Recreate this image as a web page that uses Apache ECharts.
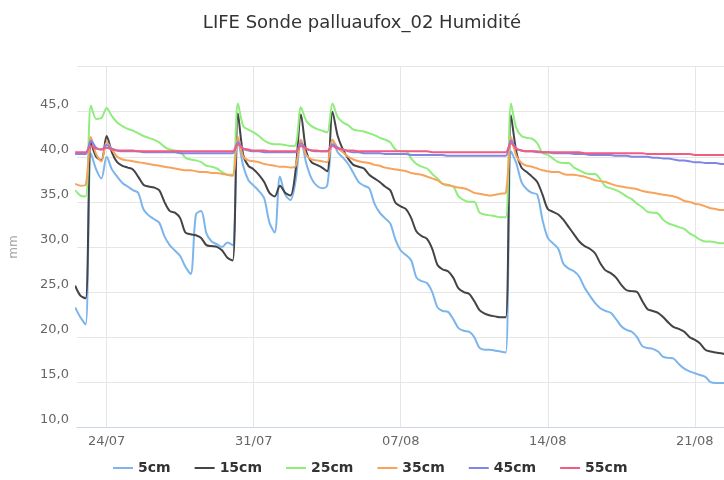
<!DOCTYPE html>
<html>
<head>
<meta charset="utf-8">
<script src="https://cdn.jsdelivr.net/npm/echarts@6/dist/echarts.min.js"></script>
<style>html,body{margin:0;padding:0;background:#fff;}#chart{width:724px;height:480px;}</style>
</head>
<body>
<div id="chart"></div>
<script>
// ---- data (readings every 6 hours, starting 22/07/2023 12:00) ----
var seriesNames = ['5cm', '15cm', '25cm', '35cm', '45cm', '55cm'];
var startTime = '2023-07-22T12:00:00';
var stepHours = 6;
var xTickDates = ['2023-07-24', '2023-07-31', '2023-08-07', '2023-08-14', '2023-08-21'];
var yTickValues = [10, 15, 20, 25, 30, 35, 40, 45];

var v5cm = [23.3, 22.2,
  21.4, 40.4, 38.6, 37.6,
  40.0, 38.6, 37.8, 37.1,
  36.7, 36.3, 36.0, 34.2,
  33.5, 33.1, 32.7, 31.2,
  30.2, 29.6, 29.0, 27.8,
  27.0, 33.6, 34.0, 31.5,
  30.6, 30.3, 30.0, 30.5,
  30.2, 41.9, 39.0, 37.4,
  36.8, 36.2, 35.4, 32.7,
  31.6, 37.8, 35.8, 35.2,
  37.4, 41.9, 39.3, 37.6,
  36.8, 36.5, 36.8, 41.9,
  40.5, 39.9, 39.2, 38.2,
  37.2, 36.8, 36.5, 34.8,
  33.8, 33.2, 32.6, 30.8,
  29.6, 29.1, 28.5, 26.6,
  26.2, 26.0, 25.0, 23.3,
  22.9, 22.8, 22.0, 21.0,
  20.7, 20.6, 20.0, 18.8,
  18.6, 18.6, 18.5, 18.4,
  18.3, 40.6, 39.3, 37.2,
  36.4, 36.0, 35.8, 33.0,
  31.0, 30.4, 29.8, 28.1,
  27.6, 27.3, 26.7, 25.5,
  24.6, 23.8, 23.2, 22.9,
  22.7, 22.0, 21.2, 20.8,
  20.6, 20.0, 19.0, 18.8,
  18.7, 18.4, 17.8, 17.7,
  17.6, 17.0, 16.5, 16.2,
  16.0, 15.8, 15.6, 15.0,
  14.9, 14.9, 14.9];

var v15cm = [25.7, 24.6,
  24.3, 41.6, 40.0, 39.6,
  42.3, 40.5, 39.4, 39.0,
  38.8, 38.6, 37.8, 36.9,
  36.7, 36.6, 36.3, 35.0,
  34.0, 33.8, 33.2, 31.6,
  31.4, 31.3, 31.0, 30.2,
  30.1, 30.0, 29.6, 28.8,
  28.5, 44.8, 40.2, 39.0,
  38.6, 38.0, 37.2, 36.0,
  35.6, 36.8, 36.0, 35.7,
  38.6, 44.7, 40.6, 39.4,
  39.1, 38.8, 38.4, 45.0,
  42.3, 40.8, 39.8, 39.1,
  38.9, 38.7, 38.0, 37.6,
  37.2, 36.7, 36.3, 34.9,
  34.5, 34.2, 33.2, 31.7,
  31.2, 30.9, 29.8, 28.0,
  27.5, 27.3, 26.6, 25.4,
  25.0, 24.8, 24.0, 23.0,
  22.6, 22.4, 22.3, 22.2,
  22.2, 44.6, 40.6, 38.8,
  38.3, 37.8, 37.2, 35.8,
  34.2, 33.9, 33.6, 33.0,
  32.2, 31.4, 30.6, 30.1,
  29.8, 29.3, 28.2, 27.4,
  27.1, 26.6, 25.8, 25.2,
  25.1, 25.0, 24.0, 23.1,
  22.9, 22.7, 22.2, 21.6,
  21.1, 20.9, 20.6, 20.0,
  19.7, 19.3, 18.6, 18.4,
  18.3, 18.2, 18.1];

var v25cm = [36.3, 35.7,
  35.6, 45.7, 44.2, 44.3,
  45.4, 44.5, 43.8, 43.4,
  43.1, 42.9, 42.6, 42.3,
  42.1, 41.9, 41.6, 41.1,
  40.8, 40.7, 40.6, 39.9,
  39.7, 39.6, 39.4, 39.0,
  38.9, 38.7, 38.3, 38.0,
  38.0, 45.9, 43.4, 43.0,
  42.7, 42.3, 41.8, 41.5,
  41.4, 41.4, 41.3, 41.2,
  41.3, 45.5, 44.0, 43.4,
  43.1, 42.9, 42.7, 45.9,
  44.4, 43.8, 43.5, 43.0,
  42.9, 42.8, 42.6, 42.4,
  42.1, 41.9, 41.6, 40.8,
  40.6, 40.6, 39.8, 39.2,
  38.9, 38.7, 38.1, 37.6,
  37.0, 36.8, 36.7, 35.6,
  35.2, 35.0, 35.0, 33.8,
  33.6, 33.5, 33.4, 33.3,
  33.3, 45.9, 43.2, 42.3,
  42.1, 42.0, 41.5, 40.4,
  40.2, 39.8, 39.4, 39.3,
  39.3, 38.8, 38.5, 38.2,
  38.1, 38.1, 37.5, 36.7,
  36.5, 36.3, 36.0, 35.6,
  35.3, 34.8, 34.4, 33.9,
  33.8, 33.7, 33.0, 32.6,
  32.4, 32.2, 32.0, 31.5,
  31.2, 30.8, 30.6, 30.6,
  30.5, 30.4, 30.4];

var v35cm = [37.0, 36.8,
  36.9, 42.2, 40.3, 39.5,
  41.6, 40.8, 40.0, 39.7,
  39.6, 39.5, 39.4, 39.3,
  39.2, 39.1, 39.0, 38.9,
  38.8, 38.7, 38.6, 38.5,
  38.5, 38.4, 38.3, 38.3,
  38.2, 38.2, 38.1, 38.0,
  37.9, 42.2, 40.0, 39.6,
  39.5, 39.4, 39.2, 39.1,
  39.0, 38.9, 38.9, 38.8,
  39.0, 41.9, 40.2, 39.7,
  39.6, 39.5, 39.4, 41.9,
  41.0, 40.5, 40.0, 39.7,
  39.5, 39.4, 39.3, 39.1,
  39.0, 38.8, 38.7, 38.6,
  38.5, 38.4, 38.2, 38.1,
  38.0, 37.8, 37.6, 37.4,
  37.0, 36.9, 36.7, 36.6,
  36.5, 36.3, 36.0, 35.9,
  35.8, 35.7, 35.8, 35.9,
  36.0, 42.2, 40.1, 39.3,
  39.0, 38.9, 38.7, 38.5,
  38.4, 38.3, 38.3, 38.1,
  38.0, 38.0, 37.9, 37.8,
  37.6, 37.4, 37.3, 37.2,
  37.0, 36.8, 36.7, 36.6,
  36.5, 36.4, 36.2, 36.1,
  36.0, 35.9, 35.8, 35.7,
  35.6, 35.4, 35.1, 35.0,
  34.8, 34.7, 34.5, 34.3,
  34.2, 34.1, 34.1];

var v45cm = [40.3, 40.3,
  40.3, 41.8, 41.0, 40.8,
  41.3, 40.9, 40.7, 40.6,
  40.6, 40.6, 40.6, 40.5,
  40.5, 40.5, 40.5, 40.5,
  40.5, 40.5, 40.4, 40.4,
  40.4, 40.4, 40.4, 40.4,
  40.4, 40.4, 40.4, 40.4,
  40.4, 41.6, 40.9, 40.7,
  40.6, 40.6, 40.5, 40.5,
  40.5, 40.5, 40.5, 40.5,
  40.5, 41.5, 40.9, 40.7,
  40.6, 40.6, 40.6, 41.4,
  41.0, 40.8, 40.6, 40.5,
  40.5, 40.4, 40.4, 40.4,
  40.4, 40.3, 40.3, 40.3,
  40.3, 40.3, 40.2, 40.2,
  40.2, 40.2, 40.2, 40.2,
  40.2, 40.1, 40.1, 40.1,
  40.1, 40.1, 40.1, 40.1,
  40.1, 40.1, 40.1, 40.1,
  40.1, 41.8, 40.9, 40.7,
  40.6, 40.6, 40.5, 40.5,
  40.5, 40.4, 40.4, 40.4,
  40.4, 40.3, 40.3, 40.3,
  40.2, 40.2, 40.2, 40.2,
  40.2, 40.1, 40.1, 40.1,
  40.0, 40.0, 40.0, 40.0,
  39.9, 39.9, 39.8, 39.8,
  39.7, 39.6, 39.6, 39.5,
  39.4, 39.4, 39.3, 39.3,
  39.3, 39.2, 39.2];

var v55cm = [40.5, 40.5,
  40.5, 41.2, 40.9, 40.8,
  41.0, 40.8, 40.7, 40.7,
  40.7, 40.7, 40.6, 40.6,
  40.6, 40.6, 40.6, 40.6,
  40.6, 40.6, 40.6, 40.6,
  40.6, 40.6, 40.6, 40.6,
  40.6, 40.6, 40.6, 40.6,
  40.6, 41.4, 40.9, 40.8,
  40.7, 40.7, 40.7, 40.6,
  40.6, 40.6, 40.6, 40.6,
  40.6, 41.2, 40.9, 40.7,
  40.7, 40.6, 40.6, 41.2,
  40.9, 40.8, 40.7, 40.7,
  40.6, 40.6, 40.6, 40.6,
  40.6, 40.6, 40.6, 40.6,
  40.6, 40.6, 40.6, 40.6,
  40.6, 40.6, 40.5, 40.5,
  40.5, 40.5, 40.5, 40.5,
  40.5, 40.5, 40.5, 40.5,
  40.5, 40.5, 40.5, 40.5,
  40.5, 41.5, 40.9, 40.7,
  40.6, 40.6, 40.6, 40.5,
  40.5, 40.5, 40.5, 40.5,
  40.5, 40.5, 40.5, 40.4,
  40.4, 40.4, 40.4, 40.4,
  40.4, 40.4, 40.4, 40.4,
  40.4, 40.4, 40.4, 40.3,
  40.3, 40.3, 40.3, 40.3,
  40.3, 40.3, 40.3, 40.3,
  40.2, 40.2, 40.2, 40.2,
  40.2, 40.2, 40.2];

var seriesValues = [v5cm, v15cm, v25cm, v35cm, v45cm, v55cm];
var colors = ['#7cb5ec', '#434348', '#90ed7d', '#f7a35c', '#8085e9', '#f15c80'];

// ---- chart ----
var DAY = 86400000;
var t0 = new Date(startTime).getTime();
var tickTimes = xTickDates.map(function (s) { return new Date(s + 'T00:00:00').getTime(); });
var firstTick = tickTimes[0];
function pad(n) { return (n < 10 ? '0' : '') + n; }

var series = seriesNames.map(function (name, k) {
  return {
    name: name,
    type: 'line',
    showSymbol: false,
    smooth: 0.3,
    lineStyle: { width: 2, color: colors[k] },
    itemStyle: { color: colors[k] },
    emphasis: { disabled: true },
    data: seriesValues[k].map(function (v, i) { return [t0 + i * stepHours * 3600000, v]; })
  };
});

var FONT = 'DejaVu Sans';
var chart = echarts.init(document.getElementById('chart'), null, { renderer: 'canvas' });
chart.setOption({
  animation: false,
  backgroundColor: '#ffffff',
  color: colors,
  textStyle: { fontFamily: FONT },
  title: {
    text: 'LIFE Sonde palluaufox_02 Humidité',
    left: 'center',
    top: 9,
    textStyle: { fontFamily: FONT, fontSize: 18, fontWeight: 'normal', color: '#333333' }
  },
  legend: {
    data: seriesNames,
    left: 108,
    top: 456,
    icon: 'rect',
    itemWidth: 20,
    itemHeight: 2,
    itemGap: 24,
    textStyle: { fontFamily: FONT, fontSize: 14, fontWeight: 'bold', color: '#333333' }
  },
  grid: { left: 76, right: 0, top: 66.6, bottom: 52.7, containLabel: false },
  xAxis: {
    type: 'value',
    min: firstTick - 1.4116 * DAY,
    max: firstTick + 29.39 * DAY,
    axisLine: { show: true, onZero: false, lineStyle: { color: '#ccd6eb', width: 1 } },
    axisTick: { show: false, customValues: tickTimes },
    axisLabel: {
      customValues: tickTimes,
      color: '#666666', fontSize: 13, fontFamily: FONT, margin: 8,
      formatter: function (v) { var d = new Date(v); return pad(d.getDate()) + '/' + pad(d.getMonth() + 1); }
    },
    splitLine: { show: true, lineStyle: { color: '#e6e6e6', width: 1 } }
  },
  yAxis: {
    type: 'value',
    min: 10, max: 50, interval: 5,
    name: 'mm',
    nameLocation: 'middle',
    nameGap: 57,
    nameTextStyle: { color: '#aaaaaa', fontSize: 12, fontFamily: FONT },
    axisLine: { show: false },
    axisTick: { show: false },
    axisLabel: {
      color: '#666666', fontSize: 13, fontFamily: FONT, margin: 8,
      verticalAlign: 'bottom', padding: [0, 0, 1, 0],
      showMaxLabel: false,
      formatter: function (v) { return yTickValues.indexOf(v) >= 0 ? v.toFixed(1).replace('.', ',') : ''; }
    },
    splitLine: { show: true, lineStyle: { color: '#e6e6e6', width: 1 } }
  },
  series: series
});
</script>
</body>
</html>
